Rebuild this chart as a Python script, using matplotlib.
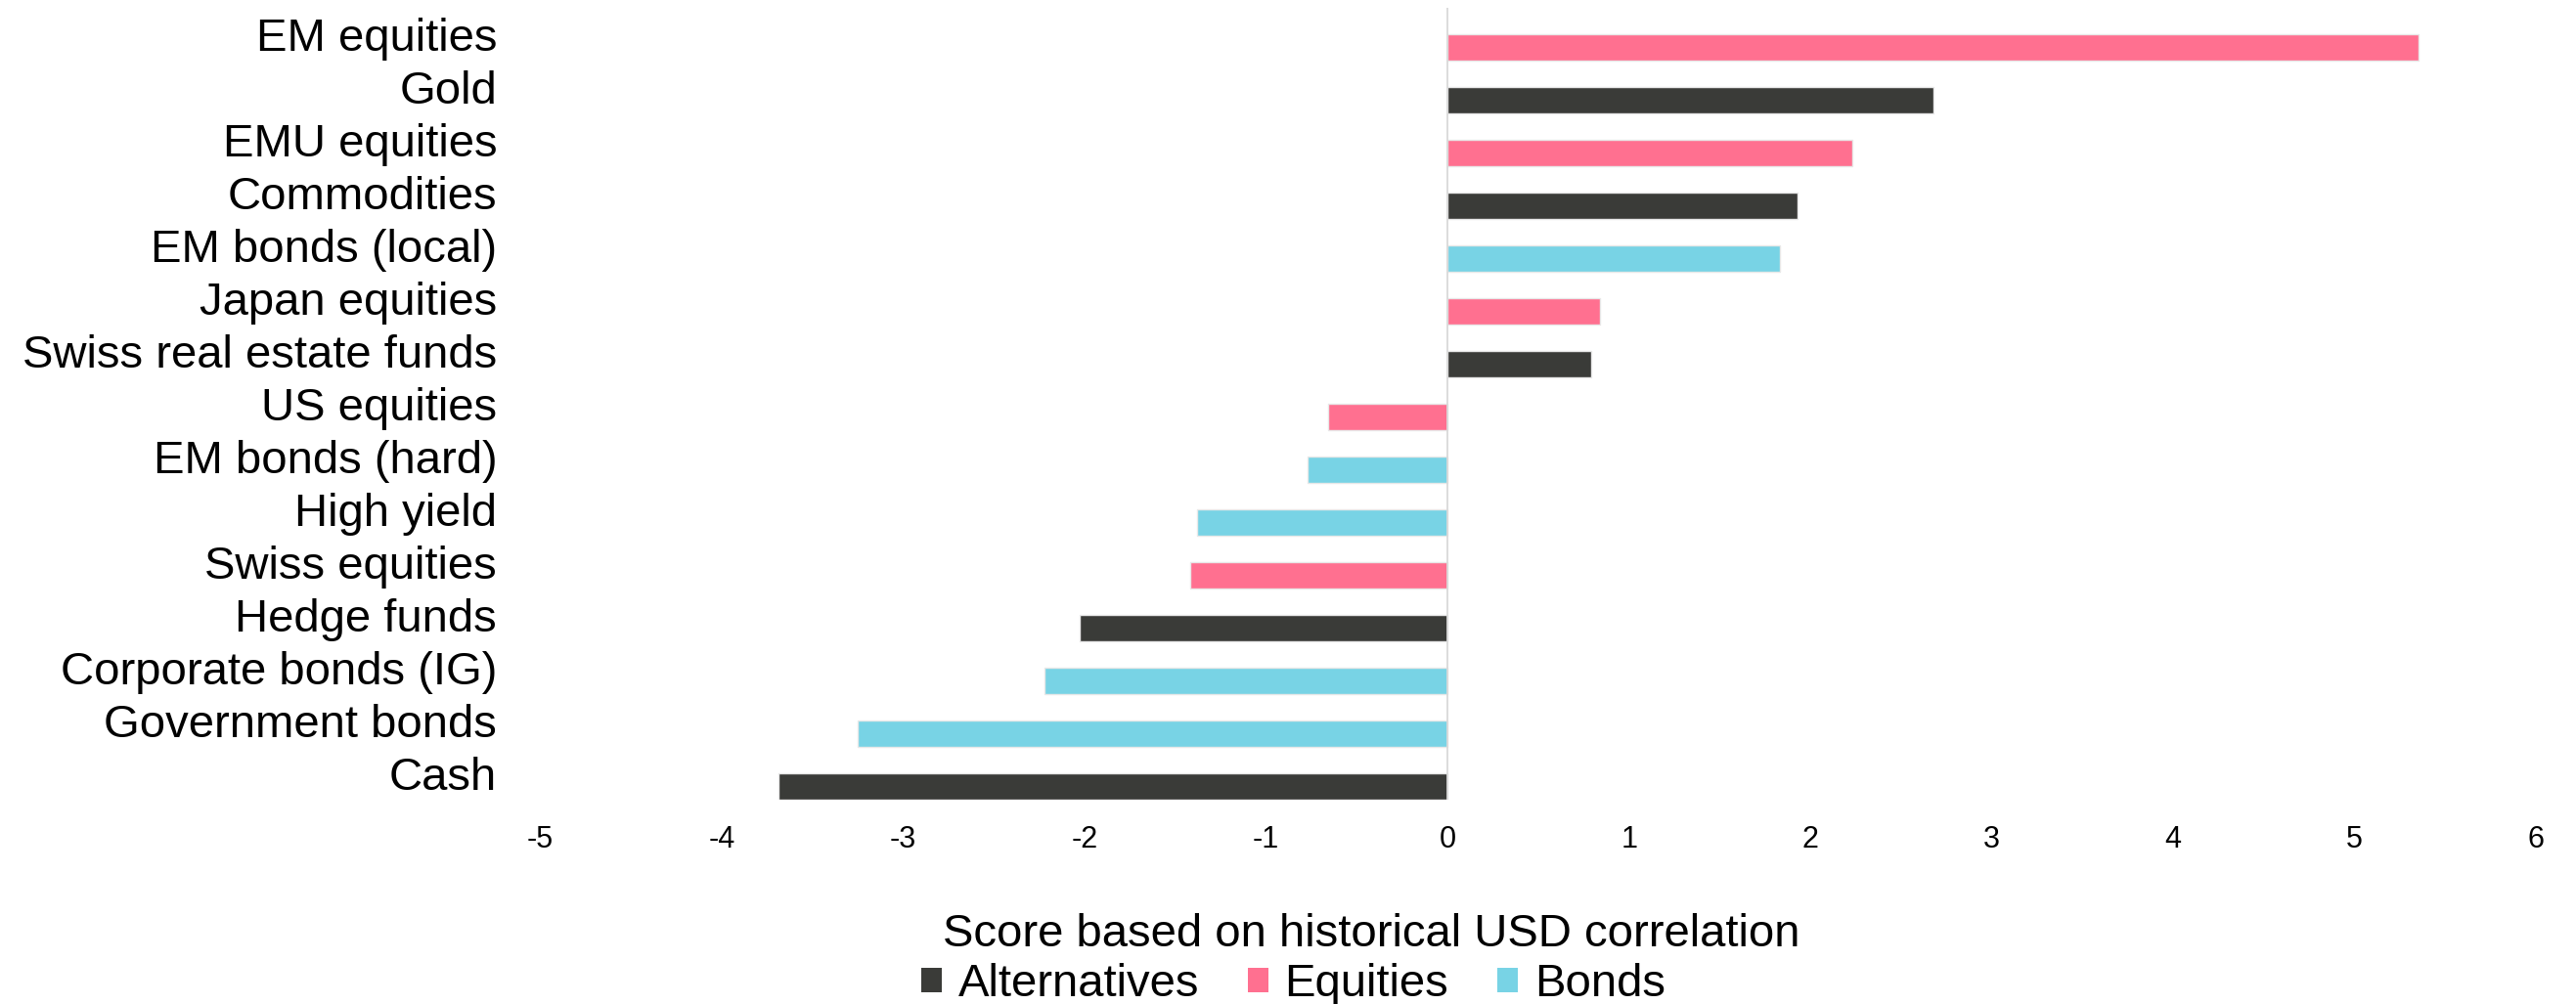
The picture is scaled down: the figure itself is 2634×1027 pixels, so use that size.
import matplotlib
matplotlib.use("Agg")
import matplotlib.pyplot as plt
from matplotlib.patches import Patch

plt.rcParams['font.family'] = ['Liberation Sans', 'DejaVu Sans']

# categorias de arriba hacia abajo
categories = ["EM equities", "Gold", "EMU equities", "Commodities",
              "EM bonds (local)", "Japan equities", "Swiss real estate funds",
              "US equities", "EM bonds (hard)", "High yield", "Swiss equities",
              "Hedge funds", "Corporate bonds (IG)", "Government bonds", "Cash"]
scores = [5.35, 2.68, 2.23, 1.93, 1.83, 0.84, 0.79,
          -0.66, -0.77, -1.38, -1.42, -2.03, -2.22, -3.25, -3.69]
groups = ["Equities", "Alternatives", "Equities", "Alternatives",
          "Bonds", "Equities", "Alternatives",
          "Equities", "Bonds", "Bonds", "Equities",
          "Alternatives", "Bonds", "Bonds", "Alternatives"]

group_names = ["Alternatives", "Equities", "Bonds"]
group_colors = {"Alternatives": "#3a3b38", "Equities": "#ff7090", "Bonds": "#78d3e5"}
x_ticks = list(range(-5, 7))

fig = plt.figure(figsize=(26.34, 10.27), dpi=100)
ax = fig.add_axes([0.2098, 0.2035, 0.7747, 0.7887])

n = len(categories)
pos = [n - 1 - i for i in range(n)]
colors = [group_colors[g] for g in groups]

# las barras van un poco por debajo de la etiqueta (como en Excel)
ax.barh([p - 0.25 for p in pos], scores, height=0.5, color=colors,
        edgecolor="#e8e8e8", linewidth=1.0, zorder=2)
ax.axvline(0, color="#d9d9d9", lw=1.3, zorder=3)

ax.set_xlim(-5, 6)
ax.set_ylim(-0.5, n - 0.5)
ax.set_yticks(pos)
ax.set_yticklabels(categories, fontsize=34)
ax.set_xticks(x_ticks)
ax.set_xticklabels([str(t) for t in x_ticks], fontsize=22)
ax.tick_params(axis="y", length=0, pad=32)
ax.tick_params(axis="x", length=0, pad=19)
for s in ax.spines.values():
    s.set_visible(False)

fig.text(0.5323, 1 - 968 / 1027, "Score based on historical USD correlation",
         fontsize=34, ha="center", va="baseline")

handles = [Patch(facecolor=group_colors[g], edgecolor="none", label=g) for g in group_names]
fig.legend(handles=handles, loc="center", bbox_to_anchor=(0.502, 0.019), ncol=3,
           frameon=False, fontsize=34, handlelength=0.45, handleheight=0.42,
           handletextpad=0.35, columnspacing=1.05, borderpad=0, borderaxespad=0)

fig.savefig("out.png", dpi=100, facecolor="white")
